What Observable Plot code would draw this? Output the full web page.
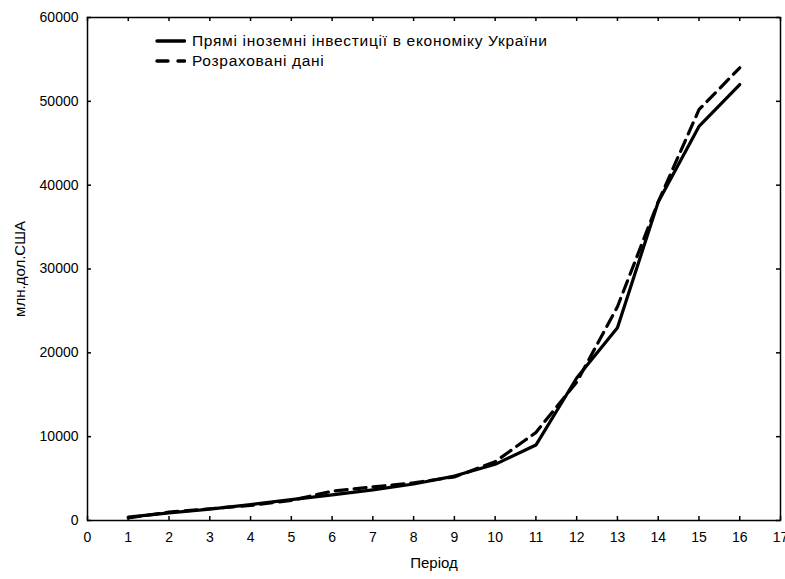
<!DOCTYPE html>
<html>
<head>
<meta charset="utf-8">
<script src="https://cdn.jsdelivr.net/npm/d3@7"></script>
<script src="https://cdn.jsdelivr.net/npm/@observablehq/plot@0.6"></script>
<style>
  html, body { margin: 0; padding: 0; background: #fff; }
  #wrap { position: relative; width: 785px; height: 579px; font-family: Arial, "Liberation Sans", sans-serif; }
  #legend { position: absolute; left: 155px; top: 31px; font-size: 15.5px; color: #000; letter-spacing: 0.7px; }
  #legend .row { display: flex; align-items: center; height: 20px; }
  #legend svg { margin-right: 6px; }
</style>
</head>
<body>
<div id="wrap">
  <div id="chart"></div>
  <div id="legend"></div>
</div>
<script>
// ---- data ----
const periods = [1, 2, 3, 4, 5, 6, 7, 8, 9, 10, 11, 12, 13, 14, 15, 16];
const actual = [400, 900, 1350, 1900, 2500, 3050, 3650, 4350, 5300, 6700, 9000, 17000, 23000, 38000, 47000, 52000];
const computed = [300, 1000, 1400, 1800, 2400, 3500, 4000, 4500, 5200, 7000, 10500, 16500, 25500, 38000, 49000, 54000];
const xTicks = [0, 1, 2, 3, 4, 5, 6, 7, 8, 9, 10, 11, 12, 13, 14, 15, 16, 17];
const yTicks = [0, 10000, 20000, 30000, 40000, 50000, 60000];
const seriesNames = ["Прямі іноземні інвестиції в економіку України", "Розраховані дані"];
const xLabel = "Період";
const yLabel = "млн.дол.США";

// ---- layout ----
const W = 785, H = 579;
const mL = 87, mR = 5, mT = 17, mB = 59;
const plotW = W - mL - mR, plotH = H - mT - mB;
const tickLen = 4;

const rowsA = periods.map((p, i) => ({x: p, y: actual[i]}));
const rowsC = periods.map((p, i) => ({x: p, y: computed[i]}));

const chart = Plot.plot({
  width: W, height: H,
  marginLeft: mL, marginRight: mR, marginTop: mT, marginBottom: mB,
  style: {fontFamily: 'Arial, "Liberation Sans", sans-serif', fontSize: "14px", color: "#000", background: "#fff"},
  x: {domain: [0, 17]},
  y: {domain: [0, 60000]},
  marks: [
    Plot.axisY({ticks: yTicks, tickSize: 0, tickPadding: 9, tickFormat: d => String(d), label: null, fontSize: 14}),
    Plot.axisX({ticks: xTicks, tickSize: 0, tickPadding: 12, tickFormat: d => String(d), label: null, fontSize: 14}),
    // inward ticks
    Plot.ruleY(yTicks, {y: d => d, insetRight: plotW - tickLen, stroke: "#000", strokeWidth: 1.5}),
    Plot.ruleY(yTicks, {y: d => d, insetLeft: plotW - tickLen, stroke: "#000", strokeWidth: 1.5}),
    Plot.ruleX(xTicks, {x: d => d, insetTop: plotH - tickLen, stroke: "#000", strokeWidth: 1.5}),
    Plot.ruleX(xTicks, {x: d => d, insetBottom: plotH - tickLen, stroke: "#000", strokeWidth: 1.5}),
    Plot.frame({stroke: "#000", strokeWidth: 1.5}),
    Plot.line(rowsC, {x: "x", y: "y", stroke: "#000", strokeWidth: 3.2, strokeDasharray: "12,7", strokeLinecap: "round", strokeLinejoin: "round"}),
    Plot.line(rowsA, {x: "x", y: "y", stroke: "#000", strokeWidth: 3.2, strokeLinejoin: "round"}),
    Plot.text([yLabel], {frameAnchor: "left", textAnchor: "middle", lineAnchor: "middle", dx: -67, rotate: -90, text: d => d, fontSize: 15, style: "letter-spacing:0.5px"}),
    Plot.text([xLabel], {frameAnchor: "bottom", textAnchor: "middle", lineAnchor: "bottom", dy: 47, text: d => d, fontSize: 15})
  ]
});
document.getElementById("chart").appendChild(chart);

// legend
const legend = document.getElementById("legend");
seriesNames.forEach((name, i) => {
  const row = document.createElement("div");
  row.className = "row";
  const dash = i === 0 ? "" : ' stroke-dasharray="11,10"';
  row.innerHTML = `<svg width="31" height="8"><line x1="2" y1="4" x2="29.5" y2="4" stroke="#000" stroke-width="3.4" stroke-linecap="round"${dash}></line></svg><span>${name}</span>`;
  legend.appendChild(row);
});
</script>
</body>
</html>
